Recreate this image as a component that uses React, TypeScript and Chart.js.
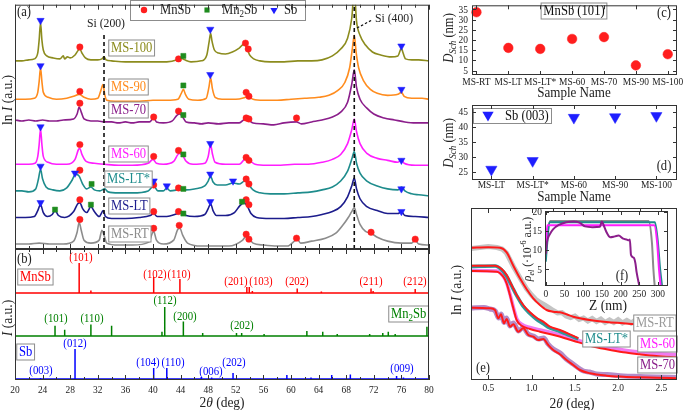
import React, { useEffect, useRef } from "react";
import { Chart, registerables } from "chart.js";

Chart.register(...registerables);

const W = 685;
const H = 410;
const SERIF = '"Liberation Serif", "Times New Roman", "DejaVu Serif", serif';
const SQUEEZE = 0.9;

type P = [number, number];

// ---------------- (a) XRD patterns: [2θ (deg), ln I (a.u., stacked)] ----------------
const xrdSamples = ["MS-RT", "MS-LT", "MS-LT*", "MS-60", "MS-70", "MS-90", "MS-100"];
const xrdColors = ["#8c8c8c", "#1c1c8c", "#1e8c8c", "#ff1eff", "#8b1e8b", "#ff8c1e", "#8c8c1e"];

const xrdMSRT: P[] = [[20,5],[22,5],[23.5,6],[25,5],[27,5],[28.5,8],[29,17],[29.3,27],[29.6,19],[30,9],[31,6],[32.2,9],[32.6,19],[32.9,14],[33.3,6],[35,4],[37,4],[39.4,7],[39.9,16],[40.1,18],[40.5,9],[41.5,5],[43,9],[43.6,20],[43.9,21],[44.3,14],[45,6],[47,3],[49,3],[51,3],[53,9],[53.5,13],[53.9,11],[54.5,6],[56,4],[58,3],[59.5,3],[60.5,8],[60.9,10],[61.4,6],[63,8],[65,11],[66.5,16],[67.5,24],[68.3,32],[68.8,38],[69.17,42],[69.5,35],[70,25],[70.8,18],[71.6,16],[72.5,12],[74,8],[76,6],[77.5,6],[78,9],[78.5,5],[80,4]];
const xrdMSLT: P[] = [[20,32],[21.5,32],[22.8,33],[23.3,39],[23.7,45],[24.1,37],[24.7,33],[25.4,35],[25.8,39],[26.3,34],[27.2,32],[28.5,38],[29.1,46],[29.4,47],[29.8,41],[30.4,37],[31,43],[31.5,38],[32.2,33],[32.8,39],[33.1,33],[34,31],[36,31],[38,32],[39.6,34],[40.1,36],[40.6,33],[42,33],[43.6,36],[44.2,37],[44.8,34],[46,33],[47.5,35],[48,41],[48.35,46],[48.7,39],[49.2,34],[50.5,34],[51.8,37],[52.6,44],[53.2,47],[53.7,43],[54.2,36],[55,32],[57,31],[59,31],[61,32],[63,33],[64.5,35],[66,38],[67.2,43],[68.2,53],[68.8,64],[69.17,72],[69.5,61],[70,51],[71,43],[72.5,39],[74,36],[75.5,36],[76,38],[76.5,34],[78,33],[80,32]];
const xrdMSLTs: P[] = [[20,59],[21,59],[22,58],[23,61],[23.4,71],[23.7,81],[24,71],[24.5,63],[25.5,60],[26.5,59],[27.5,62],[28.2,69],[28.8,76],[29.3,74],[29.8,66],[30.4,61],[31,63],[31.5,60],[32.3,59],[33,61],[33.5,58],[35,57],[37,57],[39.3,59],[40.1,64],[40.7,59],[41.5,59],[42,62],[42.5,59],[43.5,60],[44.1,61],[44.8,60],[46,61],[47.5,64],[48,69],[48.35,74],[48.7,68],[49.3,65],[50.5,65],[51.6,67],[52.5,66],[53.3,69],[53.8,66],[54.5,60],[55.5,57],[57,56],[59,56],[61,57],[63,58],[64.5,60],[66,63],[67.2,69],[68.2,79],[68.8,91],[69.17,99],[69.5,87],[70,77],[71,69],[72.5,64],[74,61],[75.5,60],[76,63],[76.5,59],[77.5,56],[78.5,55],[80,54]];
const xrdMS60: P[] = [[20,86],[22,86],[22.9,87],[23.3,94],[23.5,106],[23.7,122],[23.9,106],[24.1,94],[24.8,88],[26,86],[27.5,86],[28.7,91],[29.2,101],[29.4,102],[29.7,96],[30.3,89],[31.5,87],[33,86],[35,85],[37,85],[39.3,87],[40,91],[40.5,87],[41.5,86],[43,89],[43.8,97],[44.3,95],[44.8,89],[45.8,86],[47.5,87],[48,94],[48.35,106],[48.6,97],[49,88],[50.5,86],[52.5,86],[53.5,92],[54,90],[54.8,86],[56.5,85],[58.5,85],[60.5,86],[62.5,86],[64.5,88],[66,91],[67.2,96],[68.2,107],[68.8,121],[69.17,132],[69.5,119],[70,107],[71,97],[72.5,92],[74,90],[75.5,88],[76,91],[76.4,87],[78,85],[80,85]];
const xrdMS70: P[] = [[20,131],[21,130],[22,131],[23,130],[24,131],[25,130],[26,130],[27,131],[28.5,132],[29,137],[29.3,144],[29.6,139],[30,132],[31,130],[32,130],[33,129],[34,129],[35,128],[36,129],[37,128],[38,129],[39.5,129],[40.1,133],[40.5,129],[41.5,128],[42.8,130],[43.5,136],[43.9,137],[44.3,134],[44.8,129],[46,128],[47,127],[48,128],[49.5,127],[51,128],[52.5,128],[53.4,132],[53.8,131],[54.5,128],[56,127],[57.5,126],[59,128],[60.8,129],[61.5,127],[63,129],[64.5,131],[66,134],[67.2,139],[68.2,149],[68.8,167],[69.17,182],[69.5,164],[70,152],[71,143],[72,137],[73.5,133],[75,131],[76.5,129],[78,128],[80,128]];
const xrdMS90: P[] = [[20,152],[21.5,152],[22.8,153],[23.3,159],[23.5,170],[23.7,184],[23.9,170],[24.1,159],[24.8,154],[26,152],[27.5,153],[28.5,155],[29.3,157],[30,154],[31,152],[32,153],[32.45,161],[32.75,167],[33,157],[33.3,151],[34.5,150],[36,150],[38,150],[40,151],[42,151],[43.6,152],[44.1,158],[44.4,162],[44.7,157],[45.2,152],[46.5,151],[47.7,153],[48.1,164],[48.35,174],[48.6,163],[49,154],[50,152],[52,152],[53.4,154],[53.8,155],[54.5,152],[56,151],[58,151],[60,152],[62,153],[64,154],[65.5,156],[66.8,161],[67.8,169],[68.5,184],[68.9,204],[69.17,217],[69.45,199],[69.8,184],[70.5,171],[71.5,162],[72.5,158],[74,156],[75.5,157],[76,159],[76.4,155],[77.5,153],[79,153],[80,152]];
const xrdMS100: P[] = [[20,191],[21,191],[22,192],[22.8,193],[23.3,199],[23.5,212],[23.7,230],[23.9,212],[24.1,202],[24.6,196],[25.5,194],[26.5,193],[27,196],[27.2,193],[27.6,195],[28,194],[28.7,197],[29.2,202],[29.4,203],[29.7,199],[30.2,194],[31,192],[32,192],[32.6,193],[32.9,195],[33.2,192],[34,191],[36,190],[38,190],[40,190],[42,190],[43.5,192],[44,194],[44.6,192],[45.5,190],[47,191],[47.8,197],[48.15,211],[48.35,219],[48.55,211],[48.9,202],[49.5,199],[50.5,198],[51.5,200],[52.5,204],[53.2,208],[53.6,204],[54,197],[54.6,193],[55.5,191],[57,190],[59,190],[61,191],[63,191],[64.5,192],[66,196],[67.2,203],[68.2,214],[68.8,234],[69.17,262],[69.5,231],[70,217],[70.8,207],[71.8,200],[73,197],[74.5,195],[75.5,196],[75.85,202],[76,204],[76.2,200],[76.6,193],[77.5,192],[78.5,192],[80,191]];
const xrdCurves = [xrdMSRT, xrdMSLT, xrdMSLTs, xrdMS60, xrdMS70, xrdMS90, xrdMS100];

// phase markers in (a): [2θ, height]
const markMnSb: P[] = [[29.4,205],[43.7,193],[53.4,209],[53.8,203],[29.4,160],[53.5,159],[53.9,155],[29.4,148],[40.1,134],[43.7,140],[53.5,133],[53.9,132],[60.8,133],[29.4,106],[40.1,94],[43.7,100],[53.5,93],[53.9,90],[29.4,80],[40.1,65],[43.7,62],[53.5,71],[53.9,66],[29.4,50],[40.1,38],[43.7,38],[53.5,50],[53.9,45],[29.4,30],[40.1,21],[43.8,24],[53.5,15],[53.9,10],[60.8,11],[71.6,17],[78.0,10]];
const markMn2Sb: P[] = [[44.4,196],[44.4,166],[44.4,136],[44.4,96],[31.1,66],[44.4,61],[25.8,40],[31.0,45],[44.4,36],[52.9,48]];
const markSb: P[] = [[23.7,232],[48.3,223],[76.0,206],[23.7,186],[48.3,177],[76.0,162],[23.7,124],[48.3,107],[76.0,90],[23.7,84],[28.7,77],[40.1,69],[42.0,64],[48.3,76],[51.6,69],[76.0,61],[23.7,47],[48.3,48],[76.0,38]];

const siPeaks = [32.9, 69.17];
const siLineTops = [219, 250];

// ---------------- (b) reference patterns: [2θ, relative intensity %] ----------------
const refNames = ["MnSb", "Mn2Sb", "Sb"];
const refColors = ["#ff0000", "#008000", "#0000ff"];
const refMnSb: P[] = [[29.3,100],[31.0,8],[40.1,53],[43.9,47],[53.6,20],[53.95,20],[54.4,7],[60.9,15],[64.4,5],[71.6,15],[71.9,7],[78.0,13]];
const refMn2Sb: P[] = [[25.8,34],[27.2,21],[31.0,38],[34.0,34],[41.3,14],[41.7,97],[44.4,48],[47.2,10],[52.1,10],[52.85,10],[56.1,7],[62.3,17],[64.6,14],[66.7,7],[71.4,7],[73.3,10],[74.1,14],[75.1,7],[79.7,31]];
const refSb: P[] = [[23.7,3],[28.7,100],[40.1,37],[42.0,37],[47.0,7],[48.5,5],[51.6,20],[59.4,13],[62.9,5],[65.9,13],[68.6,15],[75.3,10],[76.3,5]];
const refPatterns = [refMnSb, refMn2Sb, refSb];
const refOffsets = [87, 44, 1];
const refScale = 0.3;

const xrdTicks = [20,24,28,32,36,40,44,48,52,56,60,64,68,72,76,80];
const xrdMinorTicks = [22,26,30,34,38,42,46,50,54,58,62,66,70,74,78];

// ---------------- (c) D_Sch MnSb (101) ----------------
const dMnSbSamples = ["MS-RT", "MS-LT", "MS-LT*", "MS-60", "MS-70", "MS-90", "MS-100"];
const dMnSbValues = [33.6, 16.1, 15.6, 20.5, 21.4, 7.5, 13.0];
const dMnSbTicks = [5, 10, 15, 20, 25, 30, 35];

// ---------------- (d) D_Sch Sb (003) ----------------
const dSbSamples = ["MS-LT", "MS-LT*", "MS-60", "MS-90", "MS-100"];
const dSbValues = [25.7, 28.6, 43.0, 43.2, 43.6];
const dSbTicks = [25, 30, 35, 40, 45];

// ---------------- (e) XRR: [2θ, ln I (a.u., stacked)] ----------------
const xrrNames = ["MS-RT", "MS-LT*", "MS-60", "MS-70"];
const xrrDataColors = ["#c4c4c4", "#2f9a9a", "#f07af0", "#b48cc8"];
const xrrLabelColors = ["#9a9a9a", "#1e8c8c", "#ff1eff", "#8b1e8b"];
const xrrFitRT: P[] = [[0.30,132.3],[0.50,132.8],[0.635,132.3],[0.712,127.7],[0.789,114.3],[0.866,101.7],[0.943,90.7],[1.019,81.7],[1.096,75],[1.173,70],[1.25,68.3],[1.327,67.7],[1.404,65.7],[1.481,63.3],[1.674,60],[1.866,58],[2.059,56.7],[2.2,55.7]];
const xrrDataRT: P[] = [[0.30,131.5],[0.40,132.5],[0.50,133.5],[0.60,132.5],[0.66,131],[0.71,127],[0.79,113.5],[0.87,101.5],[0.94,91.5],[1.00,85],[1.05,80.5],[1.10,77.5],[1.15,75],[1.20,72.5],[1.25,69.5],[1.30,67],[1.35,67.5],[1.40,64],[1.45,62.5],[1.50,64],[1.55,60.5],[1.60,62],[1.65,59],[1.70,61.5],[1.75,58.5],[1.80,61],[1.85,57.5],[1.90,60],[1.95,57.5],[2.00,60.5],[2.05,57],[2.10,59.5],[2.15,57],[2.20,60],[2.25,57.5],[2.30,59]];
const xrrFitLTs: P[] = [[0.30,114.3],[0.577,114.3],[0.654,111],[0.712,105],[0.769,95],[0.827,85],[0.904,75],[0.981,67.7],[1.058,62.3],[1.135,58.3],[1.212,53.3],[1.327,50],[1.443,45.7],[1.539,41.7]];
const xrrDataLTs: P[] = [[0.30,113.5],[0.58,114],[0.65,110.5],[0.71,104],[0.77,94],[0.83,84],[0.90,74],[0.98,66.5],[1.06,60.5],[1.13,56.5],[1.21,52],[1.33,48.5],[1.44,44.5],[1.54,41]];
const xrrFit60: P[] = [[0.30,109],[0.596,108.3],[0.673,103.3],[0.712,96.7],[0.75,85],[0.789,71.7],[0.827,60],[0.885,54.3],[0.981,51],[1.096,48.3],[1.289,44.3],[1.481,39.3],[1.674,34.3],[1.866,30.7],[2.059,27.7],[2.251,25.7],[2.443,24],[2.682,22.7]];
const xrrData60: P[] = [[0.30,109.5],[0.60,109],[0.67,104],[0.71,97.5],[0.75,86],[0.79,72.5],[0.83,61],[0.89,55.5],[0.98,52.5],[1.10,50],[1.29,46],[1.48,41],[1.67,36.5],[1.87,33],[2.06,30],[2.25,28],[2.44,26.5],[2.68,25.5]];
const xrrFit70: P[] = [[0.30,72.3],[0.519,71.7],[0.577,70],[0.615,61.7],[0.646,65.7],[0.681,56.7],[0.712,61],[0.75,53.3],[0.789,55.7],[0.846,48.3],[0.904,51.7],[0.962,45],[1.019,43.3],[1.077,40],[1.135,41],[1.193,35],[1.25,30],[1.327,25.7],[1.404,20],[1.481,15],[1.558,10],[1.674,6.7],[1.866,4.3],[2.059,3.3],[2.251,2.7],[2.443,2.3],[2.682,1.7]];
const xrrData70: P[] = [[0.30,72],[0.45,72.5],[0.52,71],[0.58,69],[0.62,62],[0.65,66],[0.68,57.5],[0.71,62],[0.75,54],[0.79,57],[0.85,49],[0.90,52.5],[0.96,46],[1.02,44],[1.08,41],[1.14,42],[1.19,36],[1.25,31],[1.33,27],[1.40,21],[1.48,16],[1.56,11],[1.60,9],[1.67,8],[1.75,6],[1.87,5.5],[2.06,4],[2.25,3.5],[2.44,3],[2.68,2.5]];
const xrrFits = [xrrFitRT, xrrFitLTs, xrrFit60, xrrFit70];
const xrrData = [xrrDataRT, xrrDataLTs, xrrData60, xrrData70];
const xrrTicks = [0.5, 1.0, 1.5, 2.0, 2.5];
const xrrMinorTicks = [0.75, 1.25, 1.75, 2.25];

// ---------------- (f) electron density: [Z (nm), ρ (1e-6 a.u.)] ----------------
const rhoColors = ["#8c8c8c", "#1e8c8c", "#ff1eff", "#8b1e8b"];
const rhoRT: P[] = [[0,8],[4,13.5],[12,17.6],[275,17.6],[284,12],[288,5],[292,0]];
const rhoLTs: P[] = [[0,7],[4,12],[10,17.3],[292,17.3],[300,12],[306,5],[312,0]];
const rho60: P[] = [[0,10],[4,16.5],[290,16.5],[298,12],[303,5],[308,0]];
const rho70: P[] = [[0,9],[3,12],[10,14],[20,15.5],[35,16.6],[55,17.3],[75,17.5],[90,17.2],[105,16.2],[125,16.0],[145,16.1],[150,17.5],[155,16.5],[162,14.8],[172,13.4],[185,13.6],[195,13.8],[207,13.0],[216,12.8],[222,12.6],[225,12.8],[228,8.8],[236,8.0],[240,6.5],[243,4.3],[252,0]];
const rhoCurves = [rhoRT, rhoLTs, rho60, rho70];
const rhoXTicks = [0, 50, 100, 150, 200, 250, 300];
const rhoYTicks = [5, 10, 15, 20];

// ====================== drawing helpers ======================
type Seg = { t: string; i?: boolean; s?: "sub" | "sup" };
type Note = { x: number; y: number; text: string | Seg[]; size: number; color?: string; align?: "left" | "center" | "right"; rot?: number; box?: boolean; boxColor?: string };
type Tick = { axis: "x" | "y"; values: number[]; len: number; sides: string };
type TickLabel = { axis: "x" | "y"; values: number[]; texts: string[]; size: number; gap: number };
type Mark = { shape: "circle" | "square" | "tri"; x: number; y: number; r: number; color: string };
type Panel = { ticks: Tick[]; labels: TickLabel[]; notes: Note[]; rects?: number[][]; marks?: Mark[]; lines?: number[][]; whiteArea?: boolean };

function fontFor(s: Seg, size: number) {
  const sz = s.s ? Math.round(size * 0.68) : size;
  return `${s.i ? "italic " : ""}${sz}px ${SERIF}`;
}

function drawNote(ctx: CanvasRenderingContext2D, n: Note) {
  const ss: Seg[] = typeof n.text === "string" ? [{ t: n.text }] : n.text;
  ctx.save();
  ctx.translate(n.x, n.y);
  if (n.rot) ctx.rotate(n.rot);
  ctx.scale(SQUEEZE, 1);
  let w = 0;
  for (const s of ss) { ctx.font = fontFor(s, n.size); w += ctx.measureText(s.t).width; }
  const align = n.align ?? "center";
  const x0 = align === "center" ? -w / 2 : align === "right" ? -w : 0;
  if (n.box) {
    const pad = 2.5, h = n.size + 2;
    ctx.save();
    ctx.scale(1 / SQUEEZE, 1);
    const bx = (x0 - pad) * SQUEEZE, bw = (w + 2 * pad) * SQUEEZE;
    ctx.fillStyle = "#ffffff";
    ctx.fillRect(bx, -h / 2, bw, h);
    ctx.strokeStyle = n.boxColor ?? "#8c8c8c";
    ctx.lineWidth = 1;
    ctx.strokeRect(bx, -h / 2, bw, h);
    ctx.restore();
  }
  ctx.fillStyle = n.color ?? "#222222";
  ctx.textBaseline = "middle";
  ctx.textAlign = "left";
  let cx = x0;
  for (const s of ss) {
    ctx.font = fontFor(s, n.size);
    const dy = s.s === "sub" ? n.size * 0.3 : s.s === "sup" ? -n.size * 0.33 : 0;
    ctx.fillText(s.t, cx, dy + n.size * 0.04);
    cx += ctx.measureText(s.t).width;
  }
  ctx.restore();
}

function drawMark(ctx: CanvasRenderingContext2D, m: Mark) {
  ctx.fillStyle = m.color;
  ctx.beginPath();
  if (m.shape === "circle") ctx.arc(m.x, m.y, m.r, 0, Math.PI * 2);
  else if (m.shape === "square") ctx.rect(m.x - m.r * 0.71, m.y - m.r * 0.71, m.r * 1.42, m.r * 1.42);
  else { ctx.moveTo(m.x - m.r * 0.866, m.y - m.r * 0.5); ctx.lineTo(m.x + m.r * 0.866, m.y - m.r * 0.5); ctx.lineTo(m.x, m.y + m.r); ctx.closePath(); }
  ctx.fill();
}

function panelPlugin(p: Panel) {
  return {
    id: "panelDeco",
    beforeDatasetsDraw(chart: any) {
      if (!p.whiteArea) return;
      const a = chart.chartArea;
      chart.ctx.save();
      chart.ctx.fillStyle = "#ffffff";
      chart.ctx.fillRect(a.left, a.top, a.right - a.left, a.bottom - a.top);
      chart.ctx.restore();
    },
    afterDatasetsDraw(chart: any) {
      const ctx = chart.ctx as CanvasRenderingContext2D;
      const a = chart.chartArea;
      const xs = chart.scales.x, ys = chart.scales.y;
      ctx.save();
      for (const r of p.rects ?? []) {
        ctx.fillStyle = "#ffffff";
        ctx.fillRect(r[0], r[1], r[2] - r[0], r[3] - r[1]);
        ctx.strokeStyle = "#8c8c8c";
        ctx.lineWidth = 1;
        ctx.strokeRect(r[0] + 0.5, r[1] + 0.5, r[2] - r[0], r[3] - r[1]);
      }
      for (const m of p.marks ?? []) drawMark(ctx, m);
      for (const l of p.lines ?? []) {
        ctx.strokeStyle = "#111";
        ctx.lineWidth = 1.2;
        ctx.setLineDash([2.5, 2]);
        ctx.beginPath();
        ctx.moveTo(l[0], l[1]);
        ctx.lineTo(l[2], l[3]);
        ctx.stroke();
        ctx.setLineDash([]);
      }
      for (const n of p.notes) drawNote(ctx, n);
      ctx.strokeStyle = "#333333";
      ctx.lineWidth = 1;
      ctx.setLineDash([]);
      ctx.strokeRect(a.left + 0.5, a.top + 0.5, a.right - a.left - 1, a.bottom - a.top - 1);
      ctx.beginPath();
      for (const t of p.ticks) {
        for (const v of t.values) {
          if (t.axis === "x") {
            const px = Math.round(xs.getPixelForValue(v)) + 0.5;
            if (t.sides.includes("b")) { ctx.moveTo(px, a.bottom); ctx.lineTo(px, a.bottom - t.len); }
            if (t.sides.includes("t")) { ctx.moveTo(px, a.top); ctx.lineTo(px, a.top + t.len); }
          } else {
            const py = Math.round(ys.getPixelForValue(v)) + 0.5;
            if (t.sides.includes("l")) { ctx.moveTo(a.left, py); ctx.lineTo(a.left + t.len, py); }
            if (t.sides.includes("r")) { ctx.moveTo(a.right, py); ctx.lineTo(a.right - t.len, py); }
          }
        }
      }
      ctx.stroke();
      for (const L of p.labels) {
        L.values.forEach((v, i) => {
          if (L.axis === "x") drawNote(ctx, { x: xs.getPixelForValue(v), y: a.bottom + L.gap, text: L.texts[i], size: L.size });
          else drawNote(ctx, { x: a.left - L.gap, y: ys.getPixelForValue(v), text: L.texts[i], size: L.size, align: "right" });
        });
      }
      ctx.restore();
    },
  };
}

const pts = (arr: P[]) => arr.map(([x, y]) => ({ x, y }));

function lineDs(data: any[], color: string, width: number, extra: any = {}) {
  return { type: "line", data, borderColor: color, backgroundColor: color, borderWidth: width, pointRadius: 0, fill: false, cubicInterpolationMode: "monotone", ...extra };
}
function markDs(data: P[], color: string, style: string, r: number, rot = 0) {
  return { type: "line", data: pts(data), showLine: false, pointStyle: style, pointRadius: r, pointBackgroundColor: color, pointBorderColor: color, pointBorderWidth: 0.5, pointRotation: rot, clip: false };
}

function makeConfig(area: number[], xr: number[], yr: number[], datasets: any[], panel: Panel): any {
  return {
    type: "line",
    data: { datasets },
    options: {
      responsive: false,
      animation: false,
      devicePixelRatio: 1,
      events: [],
      layout: { padding: { left: area[0], top: area[1], right: W - area[2], bottom: H - area[3] } },
      plugins: { legend: { display: false }, tooltip: { enabled: false }, title: { display: false } },
      scales: {
        x: { type: "linear", display: false, min: xr[0], max: xr[1], offset: false },
        y: { type: "linear", display: false, min: yr[0], max: yr[1] },
      },
    },
    plugins: [panelPlugin(panel)],
  };
}

const ROT = -Math.PI / 2;
const lnI: Seg[] = [{ t: "ln " }, { t: "I", i: true }, { t: " (a.u.)" }];
const twoTheta: Seg[] = [{ t: "2" }, { t: "θ", i: true }, { t: " (deg)" }];
const dSch: Seg[] = [{ t: "D", i: true }, { t: "Sch", i: true, s: "sub" }, { t: " (nm)" }];

function configA() {
  const ds: any[] = [];
  siPeaks.forEach((x, i) => ds.push(lineDs([{ x, y: 0 }, { x, y: siLineTops[i] }], "#111111", 1.6, { borderDash: [4, 3], cubicInterpolationMode: "default", tension: 0 })));
  ds.push(markDs(markSb, "#1e1eff", "triangle", 4.2, 180));
  ds.push(markDs(markMn2Sb, "#1e8c1e", "rect", 3.6));
  ds.push(markDs(markMnSb, "#ff1e1e", "circle", 3.2));
  xrdCurves.forEach((c, i) => ds.push(lineDs(pts(c), xrdColors[i], 1.6)));
  const labelPos: P[] = [[111, 234], [111, 206], [107, 179], [111, 154], [111, 110], [111, 87], [111, 48]];
  const notes: Note[] = xrdSamples.map((s, i) => ({ x: labelPos[i][0], y: labelPos[i][1], text: s, size: 14, color: xrdColors[i], align: "left", box: true }));
  notes.push(
    { x: 17, y: 12, text: "(a)", size: 14, align: "left" },
    { x: 106, y: 23, text: "Si (200)", size: 13 },
    { x: 375, y: 18, text: "Si (400)", size: 13, align: "left" },
    { x: 160, y: 10, text: "MnSb", size: 14, align: "left" },
    { x: 222, y: 10, text: [{ t: "Mn" }, { t: "2", s: "sub" }, { t: "Sb" }], size: 14, align: "left" },
    { x: 284, y: 10, text: "Sb", size: 14, align: "left" },
    { x: 7, y: 100, text: lnI, size: 15, rot: ROT },
  );
  const panel: Panel = {
    ticks: [{ axis: "x", values: xrdTicks, len: 5, sides: "bt" }, { axis: "x", values: xrdMinorTicks, len: 3, sides: "bt" }],
    labels: [],
    notes,
    rects: [[130, 0, 305, 20]],
    marks: [
      { shape: "circle", x: 144, y: 10, r: 3.2, color: "#ff1e1e" },
      { shape: "square", x: 207, y: 10, r: 3.6, color: "#1e8c1e" },
      { shape: "tri", x: 274, y: 10, r: 4.2, color: "#1e1eff" },
    ],
    lines: [[357, 28, 372, 20]],
  };
  return makeConfig([15, 1, 429, 249], [20, 80], [0, 248], ds, panel);
}

function configB() {
  const ds: any[] = refPatterns.map((peaks, k) => {
    const base = refOffsets[k];
    const data: { x: number; y: number }[] = [{ x: 20, y: base }];
    for (const [x, h] of peaks) data.push({ x, y: base }, { x, y: base + h * refScale }, { x, y: base });
    data.push({ x: 80, y: base });
    return lineDs(data, refColors[k], 1.5, { cubicInterpolationMode: "default", tension: 0 });
  });
  const red = refColors[0], green = refColors[1], blue = refColors[2];
  const hkl = (x: number, y: number, t: string, c: string): Note => ({ x, y, text: t, size: 12, color: c });
  const notes: Note[] = [
    { x: 17, y: 259, text: "(b)", size: 14, align: "left" },
    { x: 20, y: 277, text: refNames[0], size: 14, color: red, align: "left", box: true },
    { x: 391, y: 314, text: [{ t: "Mn" }, { t: "2", s: "sub" }, { t: "Sb" }], size: 14, color: green, align: "left", box: true },
    { x: 19, y: 352, text: refNames[2], size: 14, color: blue, align: "left", box: true },
    hkl(81, 257, "(101)", red), hkl(155, 274, "(102)", red), hkl(179, 274, "(110)", red),
    hkl(236, 281, "(201)", red), hkl(261, 281, "(103)", red), hkl(297, 281, "(202)", red),
    hkl(371, 281, "(211)", red), hkl(415, 281, "(212)", red),
    hkl(56, 318, "(101)", green), hkl(92, 318, "(110)", green), hkl(165, 300, "(112)", green),
    hkl(185, 316, "(200)", green), hkl(242, 325, "(202)", green),
    hkl(41, 370, "(003)", blue), hkl(75, 343, "(012)", blue), hkl(148, 362, "(104)", blue),
    hkl(173, 362, "(110)", blue), hkl(211, 371, "(006)", blue), hkl(234, 362, "(202)", blue),
    hkl(402, 368, "(009)", blue),
    { x: 7, y: 318, text: [{ t: "I", i: true }, { t: " (a.u.)" }], size: 15, rot: ROT },
    { x: 222, y: 402, text: twoTheta, size: 15 },
  ];
  const panel: Panel = {
    ticks: [{ axis: "x", values: xrdTicks, len: 5, sides: "bt" }, { axis: "x", values: xrdMinorTicks, len: 3, sides: "bt" }],
    labels: [{ axis: "x", values: xrdTicks, texts: xrdTicks.map(String), size: 10.5, gap: 10 }],
    notes,
  };
  return makeConfig([15, 249, 429, 380], [20, 80], [0, 131], ds, panel);
}

function configC() {
  const idx = dMnSbSamples.map((_, i) => i);
  const ds = [markDs(dMnSbValues.map((v, i) => [i, v] as P), "#ff1e1e", "circle", 4.8)];
  const panel: Panel = {
    ticks: [{ axis: "y", values: dMnSbTicks, len: 4, sides: "lr" }, { axis: "x", values: idx, len: 4, sides: "bt" }],
    labels: [
      { axis: "y", values: dMnSbTicks, texts: dMnSbTicks.map(String), size: 10.5, gap: 4 },
      { axis: "x", values: idx, texts: dMnSbSamples, size: 10.5, gap: 7 },
    ],
    notes: [
      { x: 574, y: 11, text: "MnSb (101)", size: 14, box: true, color: "#111" },
      { x: 664, y: 13, text: "(c)", size: 14 },
      { x: 574, y: 93, text: "Sample Name", size: 14.5 },
      { x: 449, y: 38, text: dSch, size: 14, rot: ROT },
    ],
  };
  return makeConfig([472, 2, 677, 75], [-0.14, 6.29], [2.8, 37], ds, panel);
}

function configD() {
  const idx = dSbSamples.map((_, i) => i);
  const ds = [markDs(dSbValues.map((v, i) => [i, v] as P), "#1e1eff", "triangle", 6.5, 180)];
  const panel: Panel = {
    ticks: [{ axis: "y", values: dSbTicks, len: 4, sides: "lr" }, { axis: "x", values: idx, len: 4, sides: "bt" }],
    labels: [
      { axis: "y", values: dSbTicks, texts: dSbTicks.map(String), size: 10.5, gap: 4 },
      { axis: "x", values: idx, texts: dSbSamples, size: 10.5, gap: 5 },
    ],
    rects: [[473, 108, 551, 123]],
    marks: [{ shape: "tri", x: 488, y: 115, r: 6.5, color: "#1e1eff" }],
    notes: [
      { x: 505, y: 116, text: "Sb (003)", size: 14, align: "left", color: "#111" },
      { x: 664, y: 166, text: "(d)", size: 14 },
      { x: 574, y: 197, text: "Sample Name", size: 14.5 },
      { x: 449, y: 143, text: dSch, size: 14, rot: ROT },
    ],
  };
  return makeConfig([472, 105, 677, 180], [-0.47, 4.5], [22.2, 47.2], ds, panel);
}

function configE() {
  const ds: any[] = [];
  xrrFits.forEach((f) => ds.push(lineDs(pts(f), "#ff1a1a", 2)));
  xrrData.forEach((d, i) => ds.push(lineDs(pts(d), xrrDataColors[i], i === 0 || i === 3 ? 5 : 3.5, i === 0 ? { cubicInterpolationMode: "default", tension: 0 } : {})));
  const labelPos: P[] = [[636, 323], [585, 339], [640, 344], [640, 365]];
  const notes: Note[] = xrrNames.map((s, i) => ({ x: labelPos[i][0], y: labelPos[i][1], text: s, size: 14, color: xrrLabelColors[i], align: "left", box: true }));
  notes.push(
    { x: 476, y: 368, text: "(e)", size: 14, align: "left" },
    { x: 456, y: 290, text: lnI, size: 15, rot: ROT },
    { x: 572, y: 403, text: twoTheta, size: 15 },
  );
  const panel: Panel = {
    ticks: [{ axis: "x", values: xrrTicks, len: 5, sides: "bt" }, { axis: "x", values: xrrMinorTicks, len: 3, sides: "bt" }],
    labels: [{ axis: "x", values: xrrTicks, texts: xrrTicks.map((v) => v.toFixed(1)), size: 10.5, gap: 8 }],
    notes,
  };
  return makeConfig([471, 208, 677, 380], [0.3, 2.68], [0, 172], ds, panel);
}

function configF() {
  const ds: any[] = [];
  for (let i = rhoCurves.length - 1; i >= 0; i--) ds.push(lineDs(pts(rhoCurves[i]), rhoColors[i], 2));
  const panel: Panel = {
    whiteArea: true,
    ticks: [
      { axis: "x", values: rhoXTicks, len: 4, sides: "bt" },
      { axis: "y", values: rhoYTicks, len: 4, sides: "lr" },
    ],
    labels: [
      { axis: "x", values: rhoXTicks, texts: rhoXTicks.map(String), size: 10.5, gap: 8 },
      { axis: "y", values: rhoYTicks, texts: rhoYTicks.map(String), size: 10.5, gap: 3 },
    ],
    notes: [
      { x: 622, y: 276, text: "(f)", size: 14 },
      { x: 608, y: 305, text: "Z (nm)", size: 15 },
      { x: 527, y: 249, text: [{ t: "ρ", i: true }, { t: "el", i: true, s: "sub" }, { t: " (·10" }, { t: "-6", s: "sup" }, { t: " a.u.)" }], size: 13, rot: ROT },
    ],
  };
  return makeConfig([545, 211, 668, 286], [-2, 327], [0.7, 20.2], ds, panel);
}

export default function App() {
  const canvases = useRef<(HTMLCanvasElement | null)[]>([]);
  useEffect(() => {
    const builders = [configA, configB, configC, configD, configE, configF];
    const charts: Chart[] = [];
    builders.forEach((b, i) => {
      const c = canvases.current[i];
      if (c) charts.push(new Chart(c, b()));
    });
    return () => charts.forEach((c) => c.destroy());
  }, []);
  return (
    <div style={{ position: "absolute", left: 0, top: 0, width: W, height: H, background: "#ffffff", overflow: "hidden" }}>
      {[0, 1, 2, 3, 4, 5].map((i) => (
        <canvas
          key={i}
          ref={(el) => { canvases.current[i] = el; }}
          width={W}
          height={H}
          style={{ position: "absolute", left: 0, top: 0, width: W, height: H }}
        />
      ))}
    </div>
  );
}
